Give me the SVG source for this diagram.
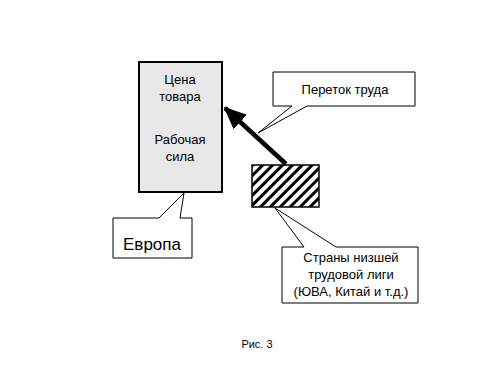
<svg xmlns="http://www.w3.org/2000/svg" width="500" height="375" viewBox="0 0 500 375">
<style>
text{font-family:"Liberation Sans",Arial,sans-serif;fill:#000;text-anchor:middle}
.t{font-size:13px}
.co{fill:#fff;stroke:#000;stroke-width:1}
</style>
<defs>
<pattern id="hatch" patternUnits="userSpaceOnUse" width="7" height="7" patternTransform="rotate(45)">
<rect width="7" height="7" fill="#fff"/>
<rect x="0" y="0" width="3" height="7" fill="#000"/>
</pattern>
<marker id="ah" markerWidth="5" markerHeight="4.4" refX="4.6" refY="2.2" orient="auto" markerUnits="strokeWidth">
<path d="M0,0 L5,2.2 L0,4.4 Z" fill="#000"/>
</marker>
</defs>
<rect width="500" height="375" fill="#fff"/>
<g id="europe-box">
<rect x="139" y="62" width="83" height="130" fill="#e8e8e8" stroke="#000" stroke-width="2"/>
<text class="t" x="180" y="84">Цена</text>
<text class="t" x="180" y="101">товара</text>
<text class="t" x="180" y="144">Рабочая</text>
<text class="t" x="180" y="161">сила</text>
</g>
<g id="low-countries-box">
<rect x="252" y="165" width="67" height="42" fill="url(#hatch)" stroke="#000" stroke-width="1.5"/>
</g>
<g id="connectors">
<line x1="286" y1="164" x2="225" y2="108" stroke="#000" stroke-width="4.5" marker-end="url(#ah)"/>
</g>
<g id="europa-callout">
<path class="co" d="M113,218 L159,218 L184,193 L180,218 L192,218 L192,258 L113,258 Z"/>
<text x="152" y="250" style="font-size:17px">Европа</text>
</g>
<g id="flow-callout">
<path class="co" d="M273,72 L415,72 L415,106 L307,106 L258,133 L292,106 L273,106 Z"/>
<text class="t" x="345" y="94">Переток труда</text>
</g>
<g id="countries-callout">
<path class="co" d="M282,247 L304,247 L275,208 L336,247 L418,247 L418,303 L282,303 Z"/>
<text class="t" x="351" y="262">Страны низшей</text>
<text class="t" x="351" y="279">трудовой лиги</text>
<text class="t" x="351" y="296">(ЮВА, Китай и т.д.)</text>
</g>
<text x="257" y="348" style="font-size:11px">Рис. 3</text>
</svg>
